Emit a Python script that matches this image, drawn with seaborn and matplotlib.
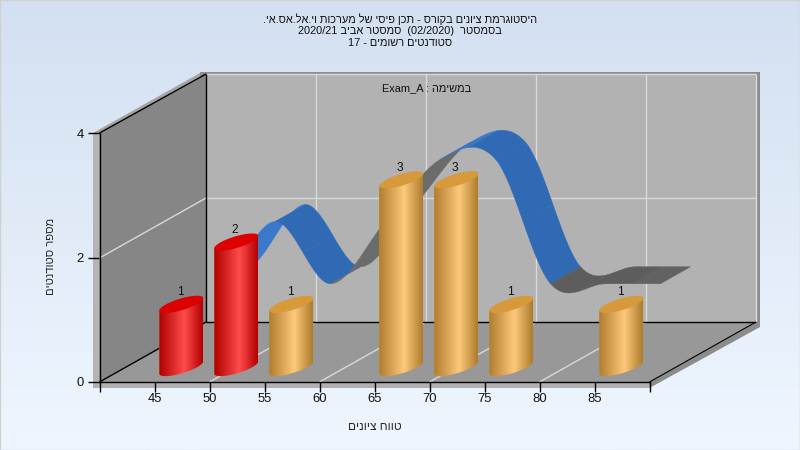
import re
import numpy as np
import pandas as pd
import matplotlib
matplotlib.use("Agg")
import matplotlib.pyplot as plt
import seaborn as sns
from matplotlib.colors import LinearSegmentedColormap
from matplotlib.patches import Polygon, Rectangle

# data
bar_scores = [45, 50, 55, 65, 70, 75, 85]
bar_counts = [1, 2, 1, 3, 3, 1, 1]
curve_scores = [45, 50, 55, 60, 65, 70, 75, 80, 85]
curve_counts = [1, 2, 1, 2, 3, 3, 1, 1, 1]
x_ticks = [40, 45, 50, 55, 60, 65, 70, 75, 80, 85, 90]
x_tick_labels = ["", "45", "50", "55", "60", "65", "70", "75", "80", "85", ""]
y_ticks = [0, 2, 4]
fail_limit = 55

title_lines = [
    "היסטוגרמת ציונים בקורס - תכן פיסי של מערכות וי.אל.אס.אי.",
    "בסמסטר  (02/2020)  סמסטר אביב 2020/21",
    "סטודנטים רשומים - 17",
]
task_label = "במשימה : Exam_A"
x_title = "טווח ציונים"
y_title = "מספר סטודנטים"

# two colours per curve segment (rising half, falling half)
LIGHT, BLUE, GREY, DARK = "#3a78cc", "#306ab4", "#6b6b6b", "#5d5d5d"
curve_colors = [LIGHT, LIGHT, BLUE, BLUE, GREY, GREY, GREY, GREY,
                LIGHT, BLUE, BLUE, BLUE, DARK, DARK, DARK, "#626262"]

PX_X = 11.0    # pixels per score unit
PX_Y = 62.25   # pixels per count unit


def visual(text):
    # matplotlib has no bidi, so put the hebrew in drawing order
    tokens = re.findall(r"[A-Za-z0-9_/]+|.", text)
    swap = {"(": ")", ")": "("}
    return "".join(swap.get(t, t) for t in reversed(tokens))


def shift(x, y, right_px, up_px):
    return x + right_px / PX_X, y + up_px / PX_Y


def poly(ax, pts_px, color, z, **kw):
    # corners given as picture pixels, only for the box of the 3d frame
    pts = [(40 + (px - 99.5) / PX_X, (382 - py) / PX_Y) for px, py in pts_px]
    ax.add_patch(Polygon(pts, closed=True, facecolor=color, edgecolor="none",
                         clip_on=False, zorder=z, **kw))


def frame_line(ax, p0, p1, color="black", lw=1.0, z=3):
    xs = [40 + (p - 99.5) / PX_X for p in (p0[0], p1[0])]
    ys = [(382 - p) / PX_Y for p in (p0[1], p1[1])]
    ax.plot(xs, ys, color=color, lw=lw, clip_on=False, zorder=z,
            solid_capstyle="butt")


def spline(xs, ys, n=24):
    # catmull-rom, same smoothing as the original ribbon
    ys2 = [ys[0]] + list(ys) + [ys[-1]]
    parts = []
    for i in range(len(xs) - 1):
        m0 = (ys2[i + 2] - ys2[i]) / 2
        m1 = (ys2[i + 3] - ys2[i + 1]) / 2
        t = np.linspace(0, 1, n + 1)
        p = ((2 * t**3 - 3 * t**2 + 1) * ys[i] + (t**3 - 2 * t**2 + t) * m0
             + (-2 * t**3 + 3 * t**2) * ys[i + 1] + (t**3 - t**2) * m1)
        parts.append((xs[i] + t * (xs[i + 1] - xs[i]), p))
    return parts


sns.set_theme(style="white")
plt.rcParams["font.family"] = ["Liberation Sans", "DejaVu Sans"]
plt.rcParams["text.color"] = "#111111"

fig = plt.figure(figsize=(8, 4.5), dpi=100)

# window background
bg = fig.add_axes([0, 0, 1, 1], zorder=-5)
bg_cmap = LinearSegmentedColormap.from_list("bg", ["#d3e0f1", "#eff6ff"])
bg.imshow(np.linspace(0, 1, 256).reshape(-1, 1), cmap=bg_cmap, aspect="auto")
bg.axis("off")
fig.add_artist(Rectangle((0, 0), 1, 1, transform=fig.transFigure, fill=False,
                         edgecolor="#d0d0d0", lw=1))

ax = fig.add_axes([99.5 / 800, 68 / 450, 550 / 800, 249 / 450])
ax.patch.set_alpha(0)

df = pd.DataFrame({"score": bar_scores, "count": bar_counts})
sns.barplot(data=df, x="score", y="count", native_scale=True, color="#d69a3a",
            ax=ax, zorder=20)
bars = list(ax.patches)

# 3d frame: outer rim, walls, floor
poly(ax, [(93, 133), (99.5, 133), (206, 73), (200, 73)], "#a4a4a4", 0)
poly(ax, [(200, 72), (760, 72), (760, 76), (200, 76)], "#8f8f8f", 0)
poly(ax, [(93, 133), (99.5, 133), (99.5, 388), (93, 388)], "#b4b4b4", 0)
poly(ax, [(93, 382), (649.5, 382), (649.5, 388), (93, 388)], "#b0b0b0", 0)
poly(ax, [(756, 72), (760, 72), (760, 327), (649.5, 388), (649.5, 382), (756, 322)],
     "#8c8c8c", 0)
poly(ax, [(206, 74), (756, 74), (756, 322), (206, 322)], "#b2b2b2", 1)
poly(ax, [(99.5, 382), (99.5, 133), (206, 74), (206, 322)], "#868686", 1)
poly(ax, [(99.5, 382), (649.5, 382), (756, 322), (206, 322)], "#989898", 1)

grid = "#d9d9d9"
for px in [316, 426, 536, 646, 756]:
    frame_line(ax, (px, 74), (px, 322), grid, 1.0, 2)
frame_line(ax, (206, 74), (756, 74), grid, 1.0, 2)
frame_line(ax, (206, 198), (756, 198), grid, 1.0, 2)
frame_line(ax, (99.5, 258), (206, 198), grid, 1.0, 2)
for px in [209.5, 319.5, 429.5, 539.5]:
    frame_line(ax, (px, 382), (px + 106.5, 322), grid, 1.0, 2)
frame_line(ax, (206, 74), (206, 322))
frame_line(ax, (99.5, 133), (206, 74))
frame_line(ax, (206, 322), (756, 322))
frame_line(ax, (99.5, 382), (206, 322))
frame_line(ax, (649.5, 382), (756, 322), lw=0.8)

# ribbon in the depth of the box
parts = spline(curve_scores, curve_counts)
for i, (sx, sy) in enumerate(parts):
    half = len(sx) // 2
    for j, idx in enumerate([np.arange(0, half + 1), np.arange(half, len(sx))]):
        fx, fy = shift(sx[idx], sy[idx], 66, 36)
        bx, by = shift(sx[idx], sy[idx], 96, 53)
        ax.fill(np.r_[fx, bx[::-1]], np.r_[fy, by[::-1]],
                color=curve_colors[2 * i + j], lw=0.3, clip_on=False, zorder=5)

# cylinders, built on the bars seaborn drew
orange_map = LinearSegmentedColormap.from_list(
    "orange", [(0, "#b27d2e"), (0.58, "#fdc97a"), (1, "#ad7c2c")])
red_map = LinearSegmentedColormap.from_list(
    "red", [(0, "#b00000"), (0.58, "#ff4b4b"), (1, "#b40000")])
t = np.linspace(0, 2 * np.pi, 121)
a, b = 6.2 / PX_Y, 6.0 / PX_Y
for bar, score, count in zip(bars, bar_scores, bar_counts):
    half_w = bar.get_width() / 2
    cx, top = shift(score, count, 26.8, 15.4)
    base = shift(score, 0, 26.8, 14.5)[1]
    ex = cx + half_w * np.cos(t)
    ey = a * np.cos(t) + b * np.sin(t)
    front = np.sin(t) <= 0
    low = np.argsort(ex[front])
    # outline: bottom half of the base ellipse, then the upper half of the top one
    body = np.c_[np.r_[ex[front][low], cx + half_w, cx - half_w],
                 np.r_[base + ey[front][low], top + a, top - a]]
    outline = Polygon(body, closed=True, transform=ax.transData)
    bar.set_x(cx - half_w)
    bar.set_y(base - a)
    bar.set_height(top - base + 2 * a)
    bar.set_linewidth(0)
    bar.set_clip_path(outline)
    late = score >= fail_limit
    im = ax.imshow(np.linspace(0, 1, 128).reshape(1, -1),
                   cmap=orange_map if late else red_map, aspect="auto",
                   extent=[cx - half_w, cx + half_w, base - 2 * a, top + 2 * a],
                   zorder=21)
    im.set_clip_path(outline)
    im.set_clip_on(True)
    ax.fill(ex, top + ey, color="#d69a3a" if late else "#dd0000", lw=0,
            clip_on=False, zorder=22)
    ax.text(cx - 0.1, top + 12 / PX_Y, str(count), ha="center", va="center",
            fontsize=8.6, zorder=23)

ax.set_xlim(40, 90)
ax.set_ylim(0, 4)
ax.set_xticks(x_ticks)
ax.set_xticklabels(x_tick_labels)
ax.set_yticks(y_ticks)
ax.tick_params(axis="x", length=7.2, width=1, color="black", labelsize=9.4,
               pad=1, bottom=True, labelcolor="#111111")
ax.tick_params(axis="y", length=8.6, width=1, color="black", labelsize=9.4,
               pad=2.5, left=True, labelcolor="#111111")
sns.despine(ax=ax, top=True, right=True)
for side in ["left", "bottom"]:
    ax.spines[side].set_color("black")
    ax.spines[side].set_linewidth(1)
    ax.spines[side].set_zorder(4)
ax.set_xlabel(visual(x_title), fontsize=8.6)
ax.set_ylabel(visual(y_title), fontsize=8.1)
ax.xaxis.set_label_coords(0.5, -39 / 249)
ax.yaxis.set_label_coords(-44 / 550, 0.505)

fig.text(0.5, 1 - 30.5 / 450, "\n".join(visual(s) for s in title_lines),
         ha="center", va="center", fontsize=7.9, linespacing=1.17)
fig.text(427 / 800, 1 - 88 / 450, visual(task_label), ha="center", va="center",
         fontsize=7.9, zorder=30)

fig.savefig("out.png", dpi=100)
